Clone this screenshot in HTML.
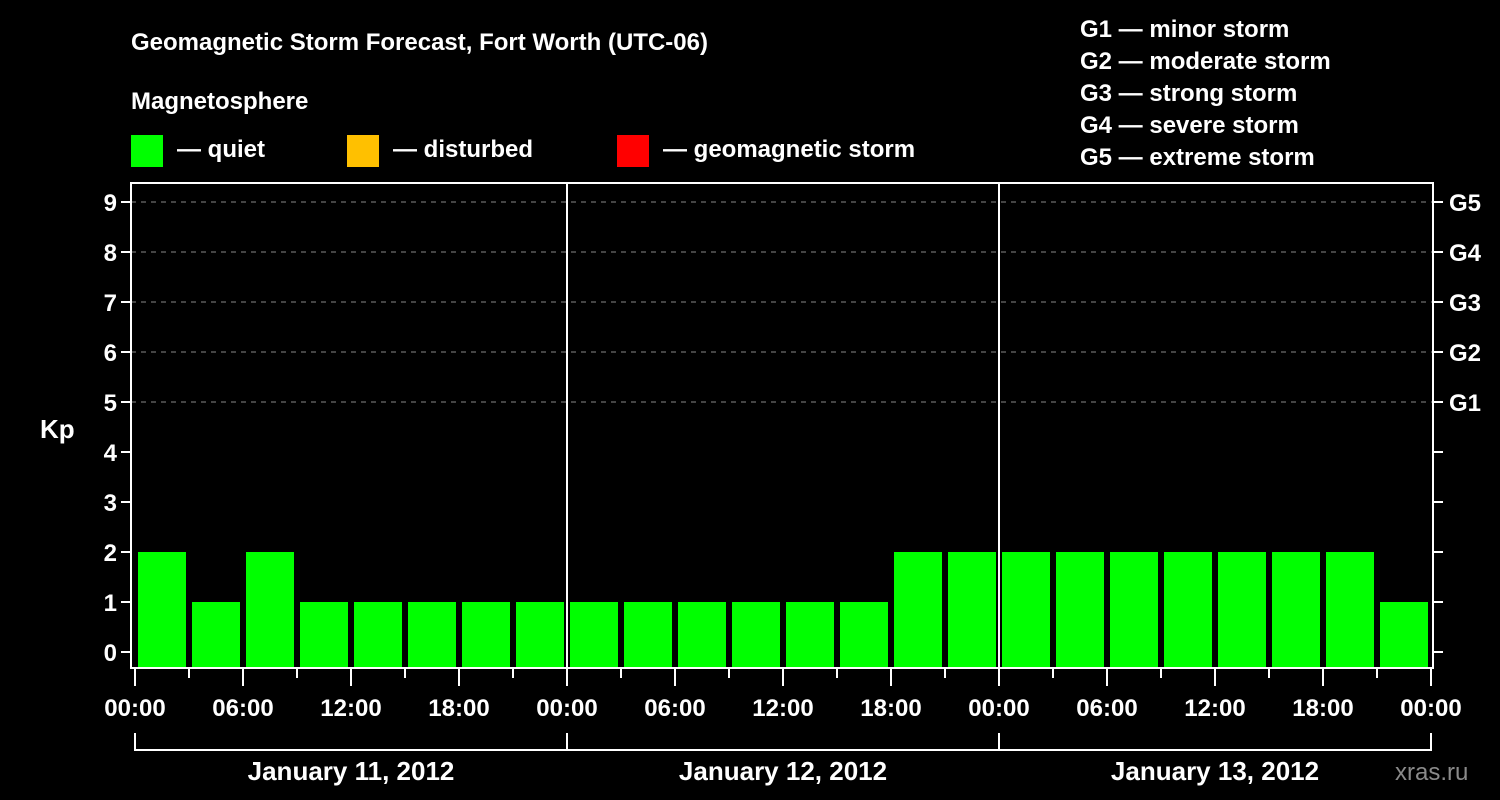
<!DOCTYPE html>
<html><head><meta charset="utf-8"><style>
html,body{margin:0;padding:0;background:#000;width:1500px;height:800px;overflow:hidden}
svg text{font-family:"Liberation Sans",sans-serif;font-weight:bold;fill:#fff}
</style></head><body>
<svg id="c" width="1500" height="800" xmlns="http://www.w3.org/2000/svg">
<text x="131" y="50" font-size="24">Geomagnetic Storm Forecast, Fort Worth (UTC-06)</text>
<text x="131" y="109" font-size="24">Magnetosphere</text>
<rect x="131" y="135" width="32" height="32" fill="#00ff00"/>
<text x="177" y="157" font-size="24">— quiet</text>
<rect x="347" y="135" width="32" height="32" fill="#ffc000"/>
<text x="393" y="157" font-size="24">— disturbed</text>
<rect x="617" y="135" width="32" height="32" fill="#ff0000"/>
<text x="663" y="157" font-size="24">— geomagnetic storm</text>
<g font-size="24">
<text x="1080" y="37">G1 — minor storm</text>
<text x="1080" y="69">G2 — moderate storm</text>
<text x="1080" y="101">G3 — strong storm</text>
<text x="1080" y="133">G4 — severe storm</text>
<text x="1080" y="165">G5 — extreme storm</text>
</g>
<text x="40" y="438" font-size="26">Kp</text>
<text x="1395" y="780" font-size="24" fill="#888" style="fill:#8a8a8a;font-weight:normal">xras.ru</text>
<g id="grid"></g><g id="bars"></g><g id="axes"></g>
</svg>
<script>
const kpValues=[2,1,2,1,1,1,1,1, 1,1,1,1,1,1,2,2, 2,2,2,2,2,2,2,1];
const yTicks=[0,1,2,3,4,5,6,7,8,9];
const gLabels=["G1","G2","G3","G4","G5"];
const xTickLabels=["00:00","06:00","12:00","18:00","00:00","06:00","12:00","18:00","00:00","06:00","12:00","18:00","00:00"];
const dayLabels=["January 11, 2012","January 12, 2012","January 13, 2012"];
const NS="http://www.w3.org/2000/svg";
const X0=135,SLOT=54,L=131,R=1433,T=183,B=668;
const yS=v=>652-v*50, xS=i=>X0+i*SLOT;
function mk(p,tag,a){const e=document.createElementNS(NS,tag);for(const k in a)e.setAttribute(k,a[k]);p.appendChild(e);return e;}
const grid=document.getElementById('grid'),bars=document.getElementById('bars'),ax=document.getElementById('axes');
yTicks.forEach(v=>{
 if(v>=5){const g=mk(grid,'line',{x1:L,x2:R,y1:yS(v),y2:yS(v),stroke:'#888','stroke-dasharray':'5,5','stroke-width':1});
 
 }
 const t=mk(ax,'line',{x1:L-10,x2:L,y1:yS(v),y2:yS(v),stroke:'#fff','stroke-width':2});
 
 
 const t2=mk(ax,'line',{x1:R,x2:R+10,y1:yS(v),y2:yS(v),stroke:'#fff','stroke-width':2});
 
 
 const lb=mk(ax,'text',{x:L-14,y:yS(v)+9,'font-size':24,'text-anchor':'end'});lb.textContent=v;
 
 
});
gLabels.forEach((g,i)=>{const t=mk(ax,'text',{x:R+16,y:yS(5+i)+9,'font-size':24});t.textContent=g;
 
 });
kpValues.forEach((v,i)=>{
 const col=v>=5?'#ff0000':(v>=4?'#ffc000':'#00ff00');
 const r=mk(bars,'rect',{x:xS(i)+3,y:yS(v),width:48,height:B-yS(v),fill:col});
 
 
});
[1,2].forEach(d=>{const l=mk(ax,'line',{x1:xS(d*8),x2:xS(d*8),y1:T,y2:B,stroke:'#fff','stroke-width':2});
 
 });
const fr=mk(ax,'rect',{x:L,y:T,width:R-L,height:B-T,fill:'none',stroke:'#fff','stroke-width':2});


for(let i=0;i<=24;i++){
 const major=i%2===0;
 const tk=mk(ax,'line',{x1:xS(i),x2:xS(i),y1:B,y2:B+(major?18:10),stroke:'#fff','stroke-width':2});
 
 
 if(major){const t=mk(ax,'text',{x:xS(i),y:716,'font-size':24,'text-anchor':'middle'});t.textContent=xTickLabels[i/2];
 
 }
}
dayLabels.forEach((d,i)=>{
 const p=mk(ax,'path',{d:`M${xS(i*8)},733 V750 H${xS(i*8+8)} V733`,fill:'none',stroke:'#fff','stroke-width':2});
 
 
 const t=mk(ax,'text',{x:xS(i*8+4),y:780,'font-size':26,'text-anchor':'middle'});t.textContent=d;
 
 
});
</script>
</body></html>
